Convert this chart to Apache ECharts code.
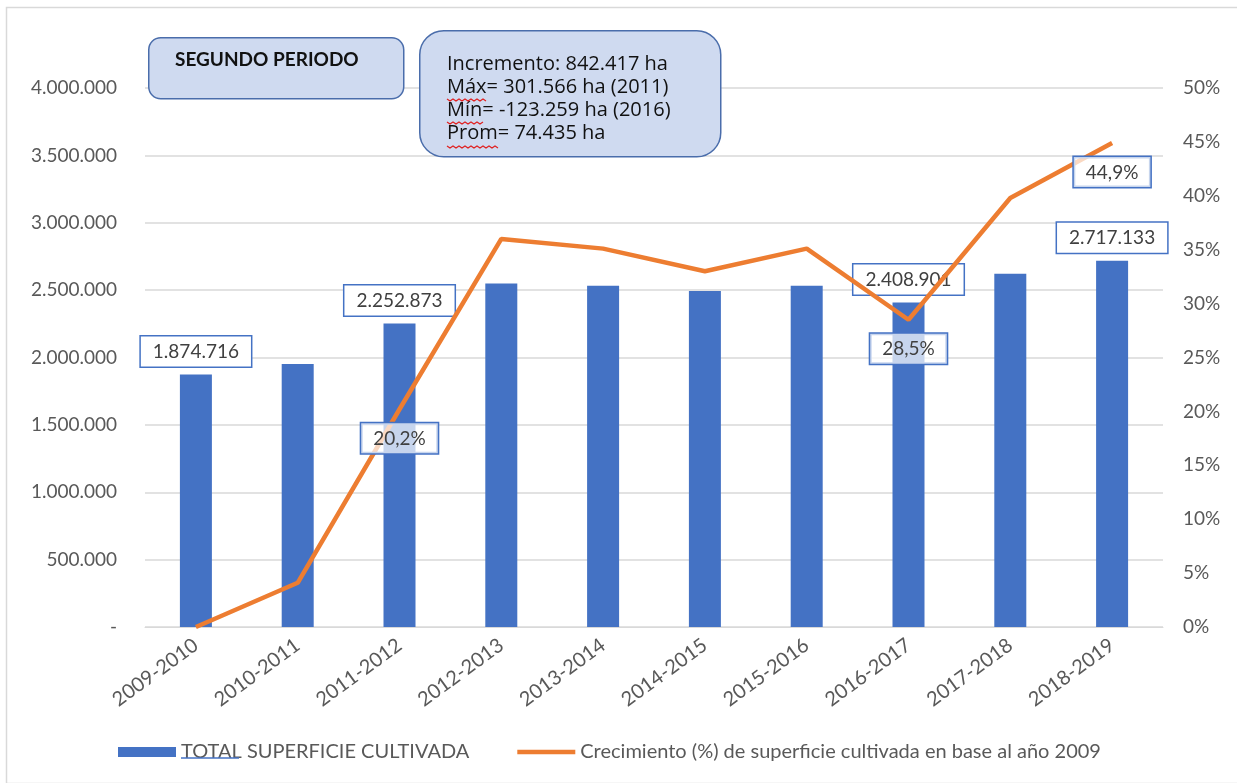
<!DOCTYPE html>
<html>
<head>
<meta charset="utf-8">
<script src="https://cdn.jsdelivr.net/npm/echarts@6/dist/echarts.min.js"></script>
<style>
  html, body { margin: 0; padding: 0; background: #fff; }
  #chart { width: 1237px; height: 783px; }
</style>
</head>
<body>
<div id="chart"></div>
<script>
const periods = ['2009-2010', '2010-2011', '2011-2012', '2012-2013', '2013-2014',
  '2014-2015', '2015-2016', '2016-2017', '2017-2018', '2018-2019'];
const superficie = [1874716, 1951307, 2252873, 2549000, 2533000, 2493000, 2532160, 2408901, 2621000, 2717133];
const crecimiento = [0, 4.1, 20.2, 36.0, 35.1, 33.0, 35.1, 28.5, 39.8, 44.9];
const barLabelIdx = [0, 2, 7, 9];
const lineLabelIdx = [2, 7, 9];
const infoLines = ['Incremento: 842.417 ha', 'Máx= 301.566 ha (2011)', 'Mín= -123.259 ha (2016)', 'Prom= 74.435 ha'];

const FONT = 'Lato, "Open Sans", sans-serif';
const txt = '#595959';
const blue = '#4472c4';
const orange = '#ed7d31';

function miles(v) {
  if (v === 0) return '-';
  return String(Math.round(v)).replace(/\B(?=(\d{3})+(?!\d))/g, '.');
}

// red spell-check squiggle under a word (decoration only)
function squiggle(x, y, w) {
  const pts = [];
  for (let i = 0; i * 3 <= w; i++) pts.push([x + i * 3, y + (i % 2 ? 2 : 0)]);
  return { type: 'polyline', z: 101, shape: { points: pts }, style: { stroke: '#e02020', lineWidth: 1.2, fill: null } };
}

const boxLabel = {
  color: '#404040', fontSize: 19, fontFamily: FONT,
  borderColor: blue, borderWidth: 1.5, padding: [6, 12, 5, 12]
};

const chart = echarts.init(document.getElementById('chart'), null, { renderer: 'canvas' });
chart.setOption({
  backgroundColor: '#fff',
  animation: false,
  grid: { left: 145, right: 74, top: 88, bottom: 156 },
  legend: {
    left: 113, top: 737, itemWidth: 58, itemHeight: 10, itemGap: 48,
    textStyle: { color: txt, fontSize: 20, fontFamily: FONT },
    data: [
      { name: 'TOTAL SUPERFICIE CULTIVADA', icon: 'rect' },
      { name: 'Crecimiento (%) de superficie cultivada en base al año 2009', icon: 'path://M0 0 L58 0 L58 4.5 L0 4.5 Z' }
    ]
  },
  xAxis: {
    type: 'category', data: periods,
    axisLine: { lineStyle: { color: '#d9d9d9' } },
    axisTick: { show: false },
    axisLabel: { color: txt, fontSize: 20, fontFamily: FONT, rotate: 36, margin: 16, interval: 0 }
  },
  yAxis: [
    {
      type: 'value', min: 0, max: 4000000, interval: 500000,
      axisLabel: { color: txt, fontSize: 19, fontFamily: FONT, margin: 28, formatter: miles },
      splitLine: { lineStyle: { color: '#d9d9d9', width: 1.5 } }
    },
    {
      type: 'value', min: 0, max: 50, interval: 5,
      axisLabel: { color: txt, fontSize: 19, fontFamily: FONT, margin: 20, formatter: '{value}%' },
      splitLine: { show: false }
    }
  ],
  series: [
    {
      name: 'TOTAL SUPERFICIE CULTIVADA', type: 'bar', barWidth: 32,
      itemStyle: { color: blue },
      label: Object.assign({ position: 'top', distance: 8, backgroundColor: '#fff', formatter: p => miles(p.value) }, boxLabel),
      data: superficie.map((v, i) => ({ value: v, label: { show: barLabelIdx.includes(i) } }))
    },
    {
      name: 'Crecimiento (%) de superficie cultivada en base al año 2009', type: 'line',
      yAxisIndex: 1, symbol: 'circle', symbolSize: 0, showSymbol: true, z: 3,
      lineStyle: { color: orange, width: 4.5 },
      itemStyle: { color: orange },
      label: Object.assign({ position: 'bottom', distance: 14, backgroundColor: 'rgba(255,255,255,0.7)',
        formatter: p => p.value.toFixed(1).replace('.', ',') + '%' }, boxLabel),
      data: crecimiento.map((v, i) => ({ value: v, label: { show: lineLabelIdx.includes(i) } }))
    }
  ],
  graphic: [
    { type: 'rect', left: 4, top: 5, shape: { width: 1240, height: 776 }, silent: true,
      style: { fill: 'none', stroke: '#d9d9d9', lineWidth: 1.5 } },
    { type: 'line', z: 100, shape: { x1: 181, y1: 758, x2: 239, y2: 758 }, style: { stroke: blue, lineWidth: 1.5 } },
    { type: 'rect', z: 100, left: 148, top: 37, shape: { width: 255, height: 61, r: 12 },
      style: { fill: '#cfdaf0', stroke: '#4a6dab', lineWidth: 1.5 } },
    { type: 'text', z: 101, left: 175, top: 50,
      style: { text: 'SEGUNDO PERIODO', fill: '#111', font: 'bold 19px ' + FONT } },
    { type: 'rect', z: 100, left: 419, top: 30, shape: { width: 301, height: 126, r: 24 },
      style: { fill: '#cfdaf0', stroke: '#4a6dab', lineWidth: 1.5 } },
    { type: 'text', z: 101, left: 447, top: 53,
      style: { text: infoLines.join('\n'), fill: '#111', font: '20px "Open Sans", sans-serif', lineHeight: 23 } },
    squiggle(447, 99, 39),
    squiggle(447, 122, 36),
    squiggle(447, 146, 51)
  ]
});
</script>
</body>
</html>
